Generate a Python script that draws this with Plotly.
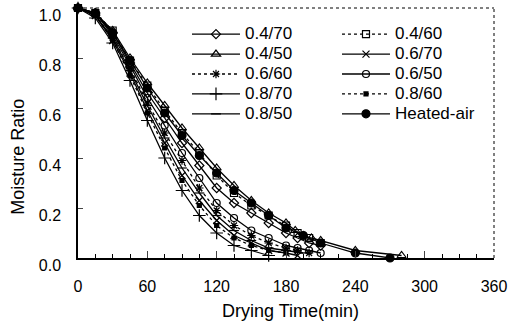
import plotly.graph_objects as go

# ---- data ----
names = ["0.4/70", "0.4/60", "0.4/50", "0.6/70", "0.6/60",
         "0.6/50", "0.8/70", "0.8/60", "0.8/50", "Heated-air"]

t_04_70 = [0, 15, 30, 45, 60, 75, 90, 105, 120, 135, 150, 165, 180, 190, 200, 210]
mr_04_70 = [1.00, 0.98, 0.90, 0.78, 0.66, 0.56, 0.46, 0.37, 0.28, 0.22, 0.18, 0.14, 0.10, 0.08, 0.06, 0.05]

t_04_60 = [0, 15, 30, 45, 60, 75, 90, 105, 120, 135, 150, 165, 180, 190, 200, 210]
mr_04_60 = [1.00, 0.98, 0.91, 0.79, 0.69, 0.59, 0.50, 0.42, 0.33, 0.26, 0.21, 0.17, 0.13, 0.10, 0.08, 0.06]

t_04_50 = [0, 15, 30, 45, 60, 75, 90, 105, 120, 135, 150, 165, 180, 188, 195, 202, 210, 240, 280]
mr_04_50 = [1.00, 0.98, 0.91, 0.80, 0.70, 0.61, 0.52, 0.44, 0.36, 0.29, 0.23, 0.18, 0.14, 0.11, 0.09, 0.08, 0.07, 0.03, 0.01]

t_06_70 = [0, 15, 30, 45, 60, 75, 90, 105, 120, 135, 150, 165, 180, 190]
mr_06_70 = [1.00, 0.97, 0.87, 0.74, 0.59, 0.46, 0.33, 0.23, 0.15, 0.09, 0.06, 0.03, 0.02, 0.01]

t_06_60 = [0, 15, 30, 45, 60, 75, 90, 105, 120, 135, 150, 165, 180, 190, 200]
mr_06_60 = [1.00, 0.97, 0.88, 0.76, 0.62, 0.50, 0.39, 0.28, 0.19, 0.13, 0.09, 0.06, 0.04, 0.03, 0.02]

t_06_50 = [0, 15, 30, 45, 60, 75, 90, 105, 120, 135, 150, 165, 180, 190, 200, 210]
mr_06_50 = [1.00, 0.98, 0.89, 0.77, 0.64, 0.53, 0.42, 0.32, 0.22, 0.16, 0.11, 0.08, 0.05, 0.04, 0.03, 0.02]

t_08_70 = [0, 15, 30, 45, 60, 75, 90, 105, 120, 135, 150, 165]
mr_08_70 = [1.00, 0.96, 0.86, 0.71, 0.55, 0.40, 0.27, 0.17, 0.10, 0.05, 0.03, 0.01]

t_08_60 = [0, 15, 30, 45, 60, 75, 90, 105, 120, 135, 150, 165, 180]
mr_08_60 = [1.00, 0.97, 0.87, 0.73, 0.58, 0.44, 0.31, 0.21, 0.13, 0.08, 0.05, 0.03, 0.02]

t_08_50 = [0, 15, 30, 45, 60, 75, 90, 105, 120, 135, 150, 165, 180, 195]
mr_08_50 = [1.00, 0.97, 0.88, 0.75, 0.61, 0.48, 0.36, 0.26, 0.17, 0.11, 0.07, 0.04, 0.03, 0.02]

t_heated = [0, 15, 30, 45, 60, 75, 90, 105, 120, 135, 150, 165, 180, 195, 210, 240, 270]
mr_heated = [1.00, 0.98, 0.90, 0.79, 0.68, 0.58, 0.49, 0.41, 0.34, 0.27, 0.22, 0.17, 0.12, 0.09, 0.06, 0.02, 0.00]

x_ticks = [0, 60, 120, 180, 240, 300, 360]
y_ticks = [0.0, 0.2, 0.4, 0.6, 0.8, 1.0]
y_tick_text = ["0.0", "0.2", "0.4", "0.6", "0.8", "1.0"]

series_t = [t_04_70, t_04_60, t_04_50, t_06_70, t_06_60, t_06_50, t_08_70, t_08_60, t_08_50, t_heated]
series_mr = [mr_04_70, mr_04_60, mr_04_50, mr_06_70, mr_06_60, mr_06_50, mr_08_70, mr_08_60, mr_08_50, mr_heated]

# ---- styles ----
symbols = ["diamond-open", "square-open", "triangle-up-open", "x-thin-open", "asterisk-open",
           "circle-open", "cross-thin-open", "square", "line-ew-open", "circle"]
sizes = [7, 7, 8, 7, 7, 7, 9, 4, 7, 8]
dashes = ["solid", "dot", "solid", "solid", "dot", "solid", "solid", "dot", "solid", "solid"]

FONT = "Liberation Sans, Arial, sans-serif"

fig = go.Figure()
for name, tt, mm, sym, sz, dsh in zip(names, series_t, series_mr, symbols, sizes, dashes):
    fig.add_trace(go.Scatter(
        x=tt, y=mm, mode="lines+markers",
        name="<span style='font-size:17px'>" + name + "</span>",
        line=dict(color="black", width=1.3, dash=dsh),
        marker=dict(symbol=sym, size=sz, color="black",
                    line=dict(color="black", width=1.2)),
        cliponaxis=False,
    ))

fig.update_layout(
    width=510, height=327,
    margin=dict(l=78, r=16, t=8, b=69, autoexpand=False),
    paper_bgcolor="white", plot_bgcolor="white",
    font=dict(family=FONT, size=16, color="black"),
    showlegend=True,
    legend=dict(
        orientation="h", x=0.262, y=0.955, xanchor="left", yanchor="top",
        bgcolor="rgba(0,0,0,0)", font=dict(size=13, family=FONT),
        itemwidth=48, entrywidth=87, traceorder="normal",
    ),
    xaxis=dict(
        range=[0, 360], tickvals=x_ticks, ticks="inside", ticklen=7, tickwidth=1,
        showline=True, linecolor="black", linewidth=1.5, showgrid=False, zeroline=False,
        ticklabelstandoff=13, ticklabeloverflow="allow", automargin=False,
        minor=dict(dtick=15, ticks="inside", ticklen=4, tickcolor="black"),
        tickfont=dict(size=16),
    ),
    yaxis=dict(
        range=[0, 1.0], tickvals=y_ticks, ticktext=y_tick_text, ticks="inside", ticklen=5,
        showline=True, linecolor="black", linewidth=1.5, showgrid=False, zeroline=False,
        ticklabelstandoff=12, ticklabelshift=7, ticklabeloverflow="allow", automargin=False,
        tickfont=dict(size=16),
    ),
    shapes=[
        dict(type="line", xref="paper", yref="paper", x0=0, x1=1, y0=1, y1=1,
             line=dict(color="black", width=1, dash="dot")),
        dict(type="line", xref="paper", yref="paper", x0=1, x1=1, y0=0, y1=1,
             line=dict(color="black", width=1, dash="dot")),
    ],
    annotations=[
        dict(text="Moisture Ratio", xref="paper", yref="paper", x=-0.145, y=0.5,
             xanchor="center", yanchor="middle", textangle=-90, showarrow=False,
             font=dict(size=18), yshift=-24),
        dict(text="Drying Time(min)", xref="paper", yref="paper", x=0.5, y=0,
             xanchor="center", yanchor="middle", showarrow=False,
             font=dict(size=18), yshift=-53, xshift=4),
    ],
)

fig.write_html("out.html", config={"displayModeBar": False},
               post_script="document.body.style.margin='0';document.body.style.padding='0';")
